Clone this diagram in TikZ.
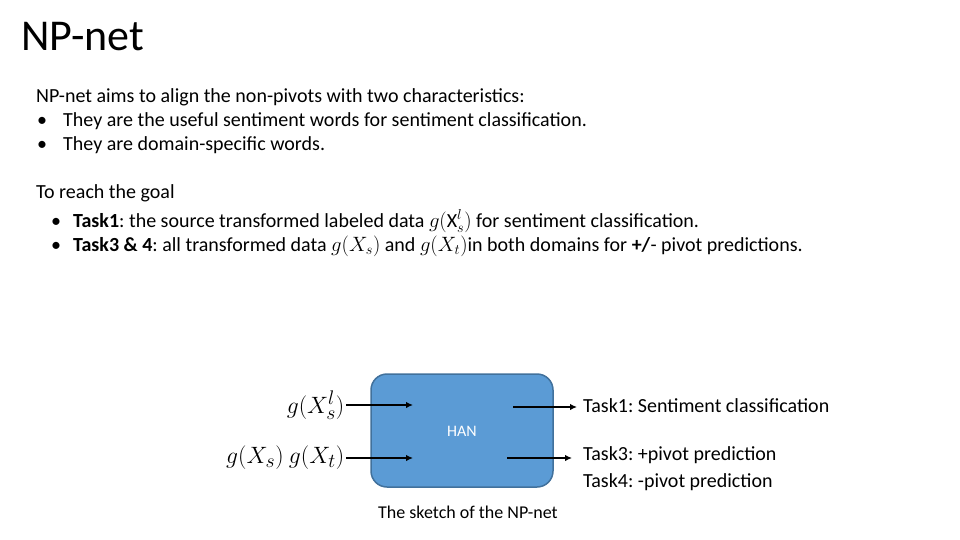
\documentclass[tikz,border=0pt]{standalone}
\usepackage{amsmath, amssymb}
\usepackage{fontspec}
\setmainfont{Carlito}
\usetikzlibrary{arrows.meta}
\frenchspacing
\definecolor{hanfill}{HTML}{5B9BD5}
\definecolor{hanedge}{HTML}{41719C}
\tikzset{
  txt/.style = {anchor = base west, inner sep = 0pt, font = \fontsize{20}{24}\selectfont},
  feed/.style = {-{Latex[length = 7pt, width = 6.5pt]}, line width = 1.4pt},
  inlabel/.style = {anchor = east, inner sep = 1.5pt, font = \fontsize{24.88}{28}\selectfont}
}

\begin{document}
\begin{tikzpicture}[x = 1pt, y = -1pt]
        \useasboundingbox[fill = white] (0,0) rectangle (960,540);
        % heading and text
        \node[txt, font = \fontsize{44}{50}\selectfont] (title) at (21,51) {NP-net};
        \node[txt] (aims) at (36,103)
             {NP-net aims to align the non-pivots with two characteristics:};
        \node[txt] (dotA) at (37,127) {\textbullet};
        \node[txt] (useful) at (63,127)
             {They are the useful sentiment words for sentiment classification.};
        \node[txt] (dotB) at (37,151) {\textbullet};
        \node[txt] (domain) at (63,151)
             {They are domain-specific words.};
        \node[txt] (goal) at (36,198) {To reach the goal};
        \node[txt] (dotC) at (51,227) {\textbullet};
        \node[txt] (taskA) at (73,227)
             {\textbf{Task1}: the source transformed labeled data $g(\mathrm{X}_s^l)$ for sentiment classification.};
        \node[txt] (dotD) at (51,251) {\textbullet};
        \node[txt] (taskB) at (73,251)
             {\textbf{Task3 \& 4}: all transformed data $g(X_s)$ and $g(X_t)$in both domains for \textbf{+/}- pivot predictions.};
        % the net
        \draw[fill = hanfill, draw = hanedge, line width = 1.5pt, rounded corners = 16pt]
             (371,374) rectangle (553,487);
        \node[font = \fontsize{16}{19}\selectfont, text = white] (han) at (462,431) {HAN};
        \node[inlabel] (inA) at (346,405) {\scalebox{0.95}{$g(X_s^l)$}};
        \node[inlabel] (inB) at (346,458) {\scalebox{0.95}{$g(X_s)\ g(X_t)$}};
        \coordinate (hanA) at (413,405);
        \coordinate (hanB) at (413,458);
        \coordinate (outA) at (513,407);
        \coordinate (outB) at (507,458);
        \coordinate (endA) at (577,407);
        \coordinate (endB) at (572,458);
        \node[txt] (clsA) at (583,412) {Task1: Sentiment classification};
        \node[txt] (pvA) at (583,460) {Task3: +pivot prediction};
        \node[txt] (pvB) at (583,487) {Task4: -pivot prediction};
        \draw[feed] (inA) -- (hanA);
        \draw[feed] (inB) -- (hanB);
        \draw[feed] (outA) -- (endA);
        \draw[feed] (outB) -- (endB);
        \node[txt, font = \fontsize{18}{22}\selectfont] (sketch) at (378,518) {The sketch of the NP-net};
\end{tikzpicture}
\end{document}
